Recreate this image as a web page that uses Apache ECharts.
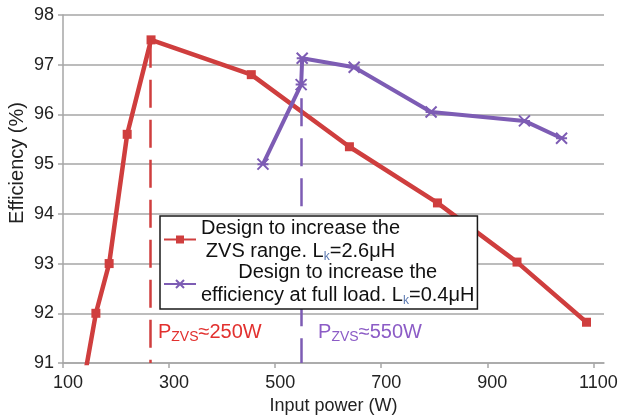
<!DOCTYPE html>
<html>
<head>
<meta charset="utf-8">
<script src="https://cdn.jsdelivr.net/npm/echarts@6/dist/echarts.min.js"></script>
<style>
html,body{margin:0;padding:0;background:#fff;}
#c{width:624px;height:415px;}
</style>
</head>
<body>
<div id="c"></div>
<script>
// ---- data ----
const redPower = [137, 162, 187, 221, 266, 455, 640, 806, 956, 1087];
const redEff   = [90.5, 92.0, 93.0, 95.6, 97.5, 96.8, 95.35, 94.22, 93.03, 91.82];
const purplePower = [477, 549, 551, 649, 794, 970, 1040];
const purpleEff   = [95.0, 96.6, 97.13, 96.95, 96.05, 95.87, 95.52];
const zvsPower = [265, 549];
const zvsTopEff = [97.5, 97.13];
const zvsLabels = ['≈250W', '≈550W'];
const seriesNames = ['ZVS range design', 'Full load efficiency design'];
const legendLines = [
  ['Design to increase the', 'ZVS range. L', '=2.6μH'],
  ['Design to increase the', 'efficiency at full load. L', '=0.4μH']
];
const yTicks = {min: 91, max: 98, interval: 1};
const xTicks = {min: 100, max: 1120, interval: 200};

const FONT = "'Liberation Sans', Arial, sans-serif";
const RED = '#CF3E3E', PURPLE = '#7D5CB4';
const RED_TXT = '#E2302E', PURPLE_TXT = '#8C5CC6';
const GRID_C = '#a6a6a6';

function pairs(xs, ys){ return xs.map((x,i)=>[x, ys[i]]); }

function zvsMark(i, color, txtColor, labelX, labelY){
  return {
    markLine: {
      silent: true, symbol: 'none', animation: false,
      lineStyle: {color: color, width: 2.5, type: [28, 12]},
      label: {show: false},
      data: [[{coord: [zvsPower[i], zvsTopEff[i]]}, {coord: [zvsPower[i], yTicks.min]}]]
    },
    markPoint: {
      silent: true, symbol: 'circle', symbolSize: 0, animation: false,
      label: {
        show: true, position: 'right', distance: 0,
        formatter: '{a|P}{s|ZVS}{a|' + zvsLabels[i] + '}',
        rich: {
          a: {fontFamily: FONT, fontSize: 20, color: txtColor, lineHeight: 22, verticalAlign: 'top'},
          s: {fontFamily: FONT, fontSize: 14, color: txtColor, lineHeight: 11, verticalAlign: 'bottom'}
        }
      },
      data: [{coord: [labelX, labelY]}]
    }
  };
}

const chart = echarts.init(document.getElementById('c'), null, {renderer: 'canvas'});
const option = {
  animation: false,
  backgroundColor: '#fff',
  textStyle: {fontFamily: FONT},
  grid: {left: 63, right: 20, top: 15, bottom: 52, containLabel: false, outerBoundsMode: 'none'},
  xAxis: {
    type: 'value', min: xTicks.min, max: xTicks.max, interval: xTicks.interval,
    name: 'Input power (W)', nameLocation: 'middle', nameGap: 24,
    nameTextStyle: {fontFamily: FONT, fontSize: 18, color: '#222'},
    axisLine: {show: true, lineStyle: {color: GRID_C, width: 1.5}},
    axisTick: {show: true, length: 5, lineStyle: {color: GRID_C, width: 1.5}},
    axisLabel: {fontFamily: FONT, fontSize: 18, color: '#222', margin: 11, showMaxLabel: false,
      padding: [0, 0, 0, 10],
      formatter: function(v){ return String(v); }},
    splitLine: {show: false}
  },
  yAxis: {
    type: 'value', min: yTicks.min, max: yTicks.max, interval: yTicks.interval,
    name: '{g|}{n|Efficiency (%)}', nameLocation: 'middle', nameGap: 36, nameMoveOverlap: false,
    nameTextStyle: {fontFamily: FONT, fontSize: 20, color: '#222',
      rich: {
        g: {width: 52, height: 10},
        n: {fontFamily: FONT, fontSize: 20, color: '#222'}
      }},
    axisLine: {show: true, lineStyle: {color: GRID_C, width: 1.5}},
    axisTick: {show: true, length: 5, lineStyle: {color: GRID_C, width: 1.5}},
    axisLabel: {fontFamily: FONT, fontSize: 18, color: '#222', margin: 9,
      formatter: function(v){ return String(v); }},
    splitLine: {show: true, lineStyle: {color: GRID_C, width: 1.5}}
  },
  legend: {
    left: 160, top: 216, orient: 'vertical', z: 20,
    backgroundColor: '#fff', borderColor: '#1a1a1a', borderWidth: 1.5,
    padding: [2, 3, 2, 3], itemGap: 0, itemWidth: 32, itemHeight: 10,
    data: seriesNames,
    formatter: function(name){
      const i = seriesNames.indexOf(name);
      const l = legendLines[i];
      return '{c|' + l[0] + '}\n{c|' + l[1] + '}{k|k}{c|' + l[2] + '}';
    },
    textStyle: {
      fontFamily: FONT,
      rich: {
        c: {fontFamily: FONT, fontSize: 20, color: '#111', align: 'center', lineHeight: 23},
        k: {fontFamily: FONT, fontSize: 12, color: '#5a78b0', align: 'center', lineHeight: 14, verticalAlign: 'bottom'}
      }
    }
  },
  series: [
    Object.assign({
      name: seriesNames[0], type: 'line', clip: true,
      data: pairs(redPower, redEff),
      symbol: 'rect', symbolSize: 9,
      lineStyle: {color: RED, width: 4.5},
      itemStyle: {color: RED},
      z: 3
    }, zvsMark(0, RED, RED_TXT, 279, 91.6)),
    Object.assign({
      name: seriesNames[1], type: 'line', clip: true,
      data: pairs(purplePower, purpleEff),
      symbol: 'path://M0,0L10,10M10,0L0,10M0,5L10,5', symbolSize: 11,
      lineStyle: {color: PURPLE, width: 4},
      itemStyle: {color: PURPLE, borderColor: PURPLE, borderWidth: 2},
      z: 4
    }, zvsMark(1, PURPLE, PURPLE_TXT, 581, 91.6))
  ]
};
chart.setOption(option);
</script>
</body>
</html>
